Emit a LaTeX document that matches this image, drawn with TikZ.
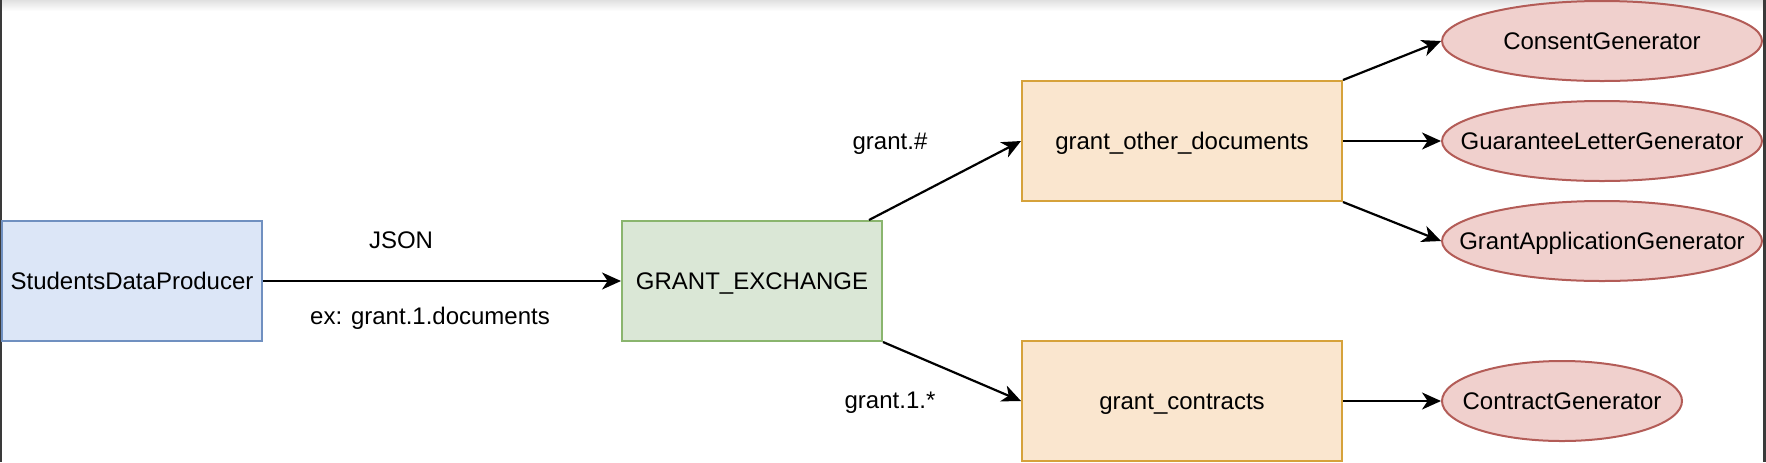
\documentclass[tikz,border=0pt]{standalone}
\usepackage{fontspec}
\setmainfont{Liberation Sans}
\usetikzlibrary{arrows.meta,shapes.geometric}
\definecolor{bluefill}{HTML}{DCE6F7}
\definecolor{bluedraw}{HTML}{7090C0}
\definecolor{greenfill}{HTML}{DAE7D6}
\definecolor{greendraw}{HTML}{8AB56E}
\definecolor{orangefill}{HTML}{FAE6CF}
\definecolor{orangedraw}{HTML}{D6A23B}
\definecolor{redfill}{HTML}{F0D0CD}
\definecolor{reddraw}{HTML}{B35C57}
\definecolor{framebar}{HTML}{3A3A3A}
\tikzset{
  txt/.style={font=\fontsize{12}{14.4}\selectfont, text height=8.6pt, text depth=0pt, inner sep=0pt},
  box/.style={txt, rectangle, line width=1pt, minimum height=60pt},
  bluebox/.style={box, fill=bluefill, draw=bluedraw, minimum width=130pt},
  greenbox/.style={box, fill=greenfill, draw=greendraw, minimum width=130pt},
  orangebox/.style={box, fill=orangefill, draw=orangedraw, minimum width=160pt},
  gen/.style={ellipse, inner sep=0pt, line width=1pt, fill=redfill, draw=reddraw, minimum height=40pt, label={[txt]center:#1}},
  lbl/.style={txt},
  conn/.style={line width=1.1pt, -{Stealth[length=9.5pt, width=8.5pt, inset=2.8pt]}},
}
\begin{document}
\begin{tikzpicture}[x=0.5pt, y=-0.5pt]
\useasboundingbox (0,0) rectangle (1766,462);
% screenshot frame
\shade[top color=black!12, bottom color=white] (0,0) rectangle (1766,11);
\fill[framebar] (0,0) rectangle (2,462);
\fill[framebar] (1763,0) rectangle (1766,462);

\node[bluebox]   (sdp) at (132,281) {StudentsDataProducer};
\node[greenbox]  (gex) at (752,281) {GRANT\_EXCHANGE};
\node[orangebox] (god) at (1182,141) {grant\_other\_documents};
\node[orangebox] (gco) at (1182,401) {grant\_contracts};
\node[gen=ConsentGenerator, minimum width=160pt] (cg)  at (1602,41)  {};
\node[gen=GuaranteeLetterGenerator, minimum width=160pt] (glg) at (1602,141) {};
\node[gen=GrantApplicationGenerator, minimum width=160pt] (gag) at (1602,241) {};
\node[gen=ContractGenerator, minimum width=120pt] (ctg) at (1562,401) {};

\node[lbl] (ljson) at (401,240) {JSON};
\node[lbl] (lex)   at (430,315.5) {ex: grant.1.documents};
\node[lbl] (lhash) at (890,141) {grant.\#};
\node[lbl] (lone)  at (890,400) {grant.1.*};

\draw[conn] (sdp.east) -- (gex.west);
\draw[conn] ([xshift=-7pt]gex.north east) -- (god.west);
\draw[conn] (gex.south east) -- (gco.west);
\draw[conn] (god.north east) -- (cg.west);
\draw[conn] (god.east) -- (glg.west);
\draw[conn] (god.south east) -- (gag.west);
\draw[conn] (gco.east) -- (ctg.west);
\end{tikzpicture}
\end{document}
